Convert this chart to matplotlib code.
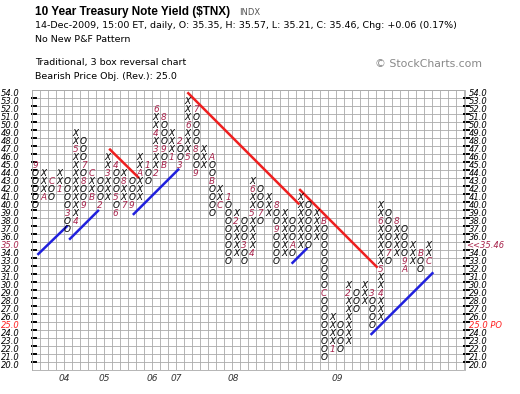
import matplotlib.pyplot as plt

# colunas do grafico P&F (O = queda, X = alta), box de 1.0
col_kind = "OX" * 25
col_low = [40, 41, 41, 42, 37, 38, 40, 41, 40, 41,
           39, 40, 40, 41, 43, 44, 45, 46, 45, 46,
           44, 45, 39, 40, 33, 34, 33, 34, 38, 39,
           33, 34, 34, 35, 35, 36, 21, 22, 22, 23,
           27, 28, 25, 26, 33, 34, 32, 33, 32, 33]
col_high = [45, 44, 43, 44, 43, 49, 48, 44, 43, 46,
            45, 44, 43, 46, 45, 52, 51, 49, 48, 53,
            52, 47, 46, 42, 41, 39, 38, 43, 42, 41,
            40, 39, 38, 41, 40, 39, 38, 26, 25, 30,
            29, 30, 29, 40, 39, 38, 37, 35, 34, 35]

# marcadores de mes (coluna, box, caractere)
month_col = [0, 1, 2, 3, 4, 5, 5, 6, 6, 6, 7, 7, 8, 9, 10, 10, 10, 11, 11, 12,
             13, 14, 15, 15, 15, 15, 16, 16, 16, 17, 18, 18, 19, 19, 20, 20, 20,
             22, 22, 23, 24, 25, 26, 27, 27, 27, 28, 30, 30, 32, 36, 36, 37, 39,
             42, 43, 43, 43, 44, 45, 46, 46, 48, 49]
month_box = [45, 41, 43, 42, 39, 38, 47, 45, 43, 40, 41, 44, 40, 44, 45, 41, 39, 40, 43, 40,
             44, 45, 44, 47, 49, 52, 51, 47, 45, 46, 48, 45, 46, 50, 52, 47, 44,
             46, 43, 40, 41, 38, 35, 34, 39, 42, 39, 40, 37, 35, 38, 29, 22, 29,
             29, 29, 32, 38, 34, 38, 33, 32, 34, 33]
month_char = (list("9AC1345789BC23456789") + list("A1234689B12356789")
              + list("ABC123456789ABC12") + list("3456789ABC"))

year_cols = [3, 8, 14, 17, 24, 37]
year_labels = ['04', '05', '06', '07', '08', '09']

# linhas de tendencia (pontos em colunas / boxes)
blue_lines = [[(0.35, 34.0), (3.9, 37.45)],
              [(4.3, 35.9), (7.8, 39.4)],
              [(12.25, 39.0), (17.8, 44.55)],
              [(32.05, 32.9), (33.8, 34.65)],
              [(41.9, 24.0), (49.5, 31.6)]]
red_lines = [[(9.3, 47.05), (12.8, 43.6)],
             [(19.05, 54.1), (32.8, 40.3)],
             [(33.0, 42.0), (42.55, 32.4)]]

price_levels = list(range(20, 55))
last_close = '<<35.46'
target = 25.0

MONTH = '#a8244c'
W, H = 520, 394

fig = plt.figure(figsize=(5.2, 3.94), dpi=100)
ax = fig.add_axes([31.5 / W, 1 - 370 / H, 433 / W, 280 / H])
ax.set_xlim(-0.5, 53.5)
ax.set_ylim(19.5, 54.5)
ax.set_xticks([])
ax.set_yticks([])
for s in ax.spines.values():
    s.set_color('#aaaaaa')
    s.set_linewidth(0.6)

# grade
for i in range(55):
    ax.axvline(i - 0.5, color='#aaaaaa', lw=0.6, zorder=0)
for v in price_levels + [19, 54]:
    ax.axhline(v + 0.5, color='#aaaaaa', lw=0.6, zorder=0)

months = {(c, b): m for c, b, m in zip(month_col, month_box, month_char)}

# X e O
for c, (k, lo, hi) in enumerate(zip(col_kind, col_low, col_high)):
    for b in range(lo, hi + 1):
        if (c, b) in months:
            ax.text(c, b, months[(c, b)], ha='center', va='center', fontsize=6.4,
                    style='italic', color=MONTH, zorder=3)
        else:
            ax.text(c, b, k, ha='center', va='center', fontsize=6.4,
                    style='italic', color='black', zorder=3)

for ln in blue_lines:
    ax.plot([p[0] for p in ln], [p[1] for p in ln], color='#2020dd', lw=1.8, zorder=2)
for ln in red_lines:
    ax.plot([p[0] for p in ln], [p[1] for p in ln], color='#ee2020', lw=1.8, zorder=2)

# eixos de preco (esquerda e direita)
for v in price_levels:
    cor = 'black'
    if v == 35:
        cor = MONTH
    if v == target:
        cor = '#ff2020'
    ax.text(-1.93, v, '%.1f' % v, ha='right', va='center', fontsize=6,
            style='italic', color=cor, clip_on=False)
    if v == 35:
        ax.text(53.7, v, last_close, ha='left', va='center', fontsize=6,
                style='italic', color=MONTH, clip_on=False)
    elif v == target:
        ax.text(54.0, v, '%.1f PO' % v, ha='left', va='center', fontsize=6,
                style='italic', color='#ff2020', clip_on=False)
    else:
        ax.text(54.0, v, '%.1f' % v, ha='left', va='center', fontsize=6,
                style='italic', color='black', clip_on=False)
    if v < 54:
        ax.plot([-0.5, 0.12], [v + 0.5, v + 0.5], color='black', lw=1.4, clip_on=False)
        ax.plot([53.4, 54.0], [v + 0.5, v + 0.5], color='black', lw=1.4, clip_on=False)

for c, lab in zip(year_cols, year_labels):
    ax.text(c - 0.1, 18.4, lab, ha='left', va='center', fontsize=6.5,
            style='italic', color='#333333', clip_on=False)

# cabecalho
def px(x, y):
    return x / W, 1 - y / H

fig.text(*px(35, 12), '10 Year Treasury Note Yield ($TNX)', fontsize=8.5,
         weight='bold', family='Liberation Sans', va='center')
fig.text(*px(239, 12.5), 'INDX', fontsize=6, color='#555555', va='center')
fig.text(*px(35, 25.5), '14-Dec-2009, 15:00 ET, daily, O: 35.35, H: 35.57, L: 35.21, '
         'C: 35.46, Chg: +0.06 (0.17%)', fontsize=6.8, va='center')
fig.text(*px(35, 40), 'No New P&F Pattern', fontsize=6.8, va='center')
fig.text(*px(35, 63), 'Traditional, 3 box reversal chart', fontsize=6.8, va='center')
fig.text(*px(35, 76.7), 'Bearish Price Obj. (Rev.): 25.0', fontsize=6.8, va='center')
fig.text(*px(375, 64), '\u00a9 StockCharts.com', fontsize=7.8, color='#888888', va='center')

fig.savefig('out.png', dpi=100, facecolor='white')
